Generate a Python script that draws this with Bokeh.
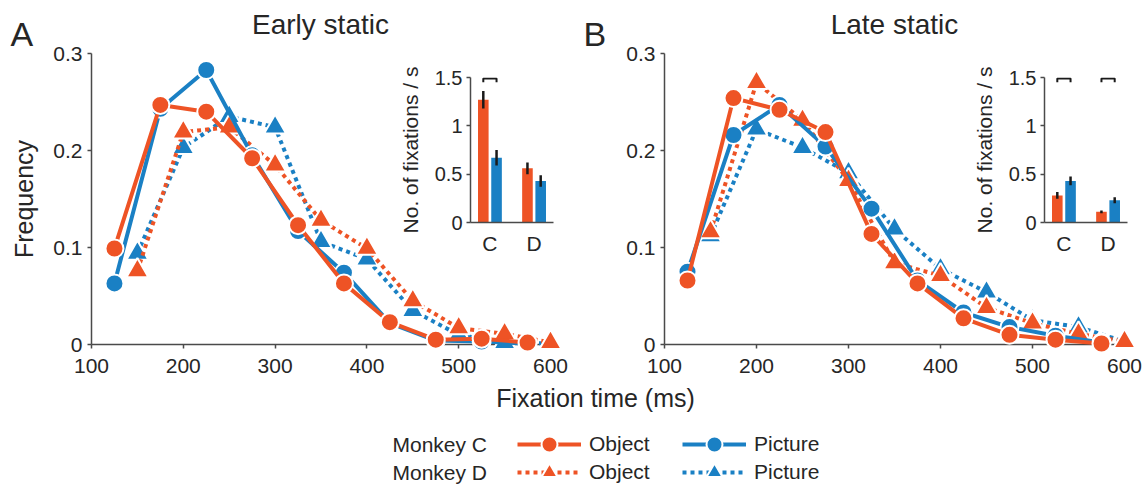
from bokeh.plotting import figure
from bokeh.models import Range1d, FixedTicker, Legend, LegendItem, GridBox, ColumnDataSource
from bokeh.core.properties import value
from bokeh.embed import file_html
from bokeh.resources import INLINE

FONT = "Liberation Sans"
ORANGE = "#EE5325"
BLUE = "#1A80C4"
AXIS = "#4a4a4a"
TXT = "#262626"
W, H = 1144, 486

# ---------------- data ----------------
bins_c = [125, 175, 225, 275, 325, 375, 425, 475, 525, 575]
bins_d = [150, 200, 250, 300, 350, 400, 450, 500, 550, 600]

early_c_object = [0.099, 0.247, 0.240, 0.192, 0.123, 0.063, 0.023, 0.005, 0.006, 0.002]
early_c_picture = [0.063, 0.243, 0.283, 0.195, 0.117, 0.074, 0.022, 0.004, 0.003, 0.001]
early_d_object = [0.076, 0.219, 0.224, 0.185, 0.128, 0.099, 0.045, 0.017, 0.011, 0.002]
early_d_picture = [0.094, 0.203, 0.235, 0.224, 0.106, 0.088, 0.035, 0.010, 0.002, 0.001]

late_c_object = [0.066, 0.254, 0.242, 0.219, 0.114, 0.063, 0.027, 0.010, 0.005, 0.001]
late_c_picture = [0.075, 0.216, 0.247, 0.204, 0.140, 0.066, 0.033, 0.018, 0.009, 0.002]
late_d_object = [0.116, 0.270, 0.231, 0.169, 0.084, 0.071, 0.038, 0.022, 0.011, 0.003]
late_d_picture = [0.112, 0.222, 0.203, 0.177, 0.119, 0.078, 0.054, 0.025, 0.018, 0.003]

x_ticks = [100, 200, 300, 400, 500, 600]
y_ticks = [0, 0.1, 0.2, 0.3]
y_tick_labels = ["0", "0.1", "0.2", "0.3"]

inset_categories = ["C", "D"]
inset_y_ticks = [0, 0.5, 1, 1.5]
inset_y_tick_labels = ["0", "0.5", "1", "1.5"]
early_rate_object = [1.27, 0.56]
early_rate_picture = [0.67, 0.43]
early_err_object = [0.09, 0.06]
early_err_picture = [0.08, 0.06]
early_significant = ["C"]
late_rate_object = [0.28, 0.11]
late_rate_picture = [0.43, 0.23]
late_err_object = [0.035, 0.015]
late_err_picture = [0.045, 0.03]
late_significant = ["C", "D"]

SERIES_STYLE = [("d_pic", BLUE, "4 4", "triangle", 22),
                ("d_obj", ORANGE, "4 4", "triangle", 22),
                ("c_pic", BLUE, "solid", "circle", 18),
                ("c_obj", ORANGE, "solid", "circle", 18)]


def clean(p):
    p.background_fill_alpha = 0
    p.border_fill_alpha = 0
    p.outline_line_color = None
    p.xgrid.visible = False
    p.ygrid.visible = False
    p.frame_align = False


def style_axis(ax, size="21px"):
    ax.axis_line_color = AXIS
    ax.axis_line_width = 1.5
    ax.major_tick_line_color = AXIS
    ax.major_tick_line_width = 1.5
    ax.minor_tick_line_color = None
    ax.major_label_text_font = FONT
    ax.major_label_text_font_size = size
    ax.major_label_text_color = TXT
    ax.axis_label_text_font = FONT
    ax.axis_label_text_font_style = "normal"
    ax.axis_label_text_color = TXT


def draw_series(p, data, **kw):
    out = {}
    for key, col, dash, mk, sz in SERIES_STYLE:
        xs, ys = data[key]
        src = ColumnDataSource(dict(x=xs, y=ys))
        ln = p.line("x", "y", source=src, line_color=col, line_width=4, line_dash=dash, **kw)
        sc = p.scatter("x", "y", source=src, marker=mk, size=sz, fill_color=col,
                       line_color="white", line_width=2, **kw)
        out[key] = [ln, sc]
    return out


def main_panel(left, scale, c_obj, c_pic, d_obj, d_pic, ylabel):
    fw = round(500 * scale)
    top, fh = 53, 291
    p = figure(width=W, height=H, x_range=Range1d(100, 600), y_range=Range1d(0, 0.3),
               output_backend="svg", toolbar_location=None, title=None,
               min_border_left=left, min_border_right=W - left - fw,
               min_border_top=top, min_border_bottom=H - top - fh)
    clean(p)
    xa = p.xaxis[0]
    ya = p.yaxis[0]
    style_axis(xa)
    style_axis(ya)
    xa.ticker = FixedTicker(ticks=x_ticks)
    xa.major_tick_out = 4
    xa.major_tick_in = 0
    xa.major_label_standoff = 10
    ya.ticker = FixedTicker(ticks=y_ticks)
    ya.major_label_overrides = {t: s for t, s in zip(y_ticks, y_tick_labels)}
    ya.major_tick_out = 4
    ya.major_tick_in = 0
    ya.major_label_standoff = 5
    if ylabel:
        ya.axis_label = ylabel
        ya.axis_label_text_font_size = "25px"
        ya.axis_label_standoff = 12
    data = {"d_pic": (bins_d, d_pic), "d_obj": (bins_d, d_obj),
            "c_pic": (bins_c, c_pic), "c_obj": (bins_c, c_obj)}
    draw_series(p, data, level="overlay")
    return p


def inset(left, obj, pic, eobj, epic, sig):
    fw, fh = 83, 145
    top = 77
    p = figure(width=W, height=H, x_range=Range1d(0.56, 2.44), y_range=Range1d(0, 1.5),
               output_backend="svg", toolbar_location=None, title=None,
               min_border_left=left, min_border_right=W - left - fw,
               min_border_top=top, min_border_bottom=H - top - fh)
    clean(p)
    xa = p.xaxis[0]
    ya = p.yaxis[0]
    style_axis(xa)
    style_axis(ya, "20px")
    xpos = [i + 1 for i in range(len(inset_categories))]
    xa.ticker = FixedTicker(ticks=xpos)
    xa.major_label_overrides = {x: c for x, c in zip(xpos, inset_categories)}
    xa.major_tick_out = 0
    xa.major_tick_in = 0
    xa.major_label_standoff = 9
    ya.ticker = FixedTicker(ticks=inset_y_ticks)
    ya.major_label_overrides = {t: s for t, s in zip(inset_y_ticks, inset_y_tick_labels)}
    ya.major_tick_out = 4
    ya.major_tick_in = 0
    ya.major_label_standoff = 4
    ya.axis_label = "No. of fixations / s"
    ya.axis_label_text_font_size = "21px"
    ya.axis_label_standoff = 10
    off, bw = 0.15, 0.24
    xo = [x - off for x in xpos]
    xp = [x + off for x in xpos]
    p.vbar(x=xo, top=obj, width=bw, fill_color=ORANGE, line_color=None)
    p.vbar(x=xp, top=pic, width=bw, fill_color=BLUE, line_color=None)
    p.segment(x0=xo, x1=xo, y0=[v - e for v, e in zip(obj, eobj)], y1=[v + e for v, e in zip(obj, eobj)],
              line_color="#1a1a1a", line_width=2.5)
    p.segment(x0=xp, x1=xp, y0=[v - e for v, e in zip(pic, epic)], y1=[v + e for v, e in zip(pic, epic)],
              line_color="#1a1a1a", line_width=2.5)
    bx, by = [], []
    for c in sig:
        x = xpos[inset_categories.index(c)]
        bx.append([x - off, x - off, x + off, x + off])
        by.append([1.45, 1.49, 1.49, 1.45])
    p.multi_line(xs=bx, ys=by, line_color="#1a1a1a", line_width=2)
    return p


# ---------------- background texts + legend ----------------
base = figure(width=W, height=H, x_range=Range1d(0, W), y_range=Range1d(H, 0),
              x_axis_type=None, y_axis_type=None, output_backend="svg", toolbar_location=None,
              title=None, min_border=0)
clean(base)
base.text(x=[10, 583], y=[33, 33], text=["A", "B"], text_font=value(FONT), text_font_size="34px",
          text_color=TXT, text_align="left", text_baseline="alphabetic")
base.text(x=[320, 894], y=[24, 24], text=["Early static", "Late static"], text_font=value(FONT),
          text_font_size="28px", text_color=TXT, text_align="center", text_baseline="alphabetic")
base.text(x=[595], y=[397], text=["Fixation time (ms)"], text_font=value(FONT),
          text_font_size="25px", text_color=TXT, text_align="center", text_baseline="alphabetic")
base.text(x=[392, 392], y=[444, 472], text=["Monkey C", "Monkey D"], text_font=value(FONT),
          text_font_size="21px", text_color=TXT, text_align="left", text_baseline="alphabetic")

# legend swatches: the early-static series drawn on a range that keeps them out of view
base.extra_y_ranges = {"legend_only": Range1d(10, 11)}
leg_r = draw_series(base, {"d_pic": (bins_d, early_d_picture), "d_obj": (bins_d, early_d_object),
                           "c_pic": (bins_c, early_c_picture), "c_obj": (bins_c, early_c_object)},
                    y_range_name="legend_only")

leg_kw = dict(background_fill_alpha=0, border_line_color=None, padding=0, margin=0,
              glyph_width=64, glyph_height=40, label_height=40, spacing=0, label_standoff=8,
              label_text_font=FONT, label_text_font_size="21px", label_text_color=TXT)
legend_layout = [("c_obj", "Object", 517, 443.5), ("d_obj", "Object", 517, 471.5),
                 ("c_pic", "Picture", 682, 443.5), ("d_pic", "Picture", 682, 471.5)]
for key, lab, lx, ly in legend_layout:
    lg = Legend(items=[LegendItem(label=lab, renderers=leg_r[key])],
                location=(lx, H - (ly + 20)), **leg_kw)
    base.add_layout(lg, "center")

pA = main_panel(91, 0.9186, early_c_object, early_c_picture, early_d_object, early_d_picture, "Frequency")
pB = main_panel(664, 0.92, late_c_object, late_c_picture, late_d_object, late_d_picture, None)
iA = inset(470, early_rate_object, early_rate_picture, early_err_object, early_err_picture, early_significant)
iB = inset(1044, late_rate_object, late_rate_picture, late_err_object, late_err_picture, late_significant)

grid = GridBox(children=[(base, 0, 0), (pA, 0, 0), (pB, 0, 0), (iA, 0, 0), (iB, 0, 0)])

open("out.html", "w").write(file_html(grid, INLINE))
